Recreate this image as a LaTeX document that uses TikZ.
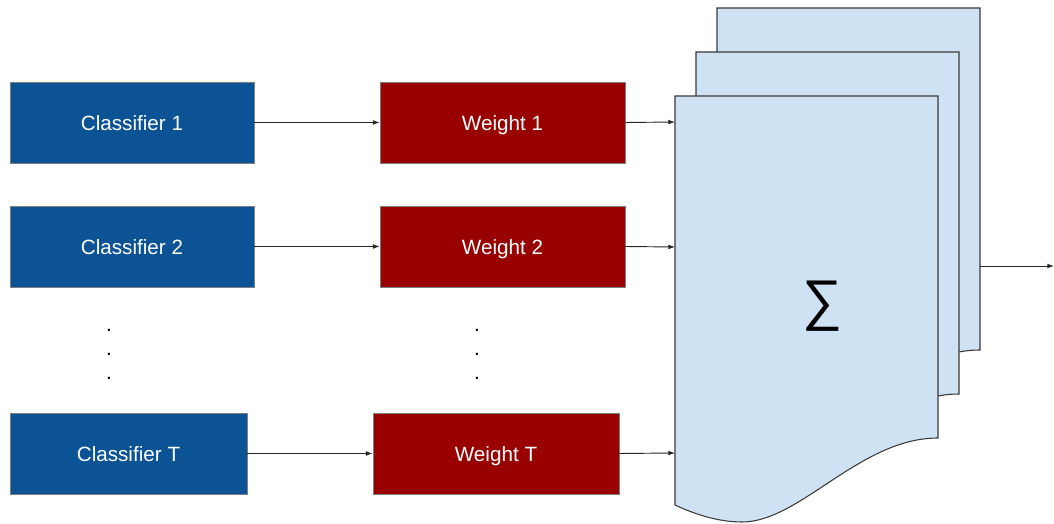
\documentclass[tikz,border=0pt]{standalone}
\usepackage{fontspec}
\setmainfont{Liberation Sans}
\usetikzlibrary{arrows.meta}
\definecolor{clsblue}{HTML}{0B5394}
\definecolor{wred}{HTML}{990000}
\definecolor{docfill}{HTML}{CFE2F3}
\definecolor{docline}{HTML}{3A3A3A}
\definecolor{boxline}{HTML}{7F7F7F}
\begin{document}
\begin{tikzpicture}[x=0.75pt,y=-0.75pt,
  box/.style={draw=boxline, line width=0.6pt, inner sep=0pt, text=white,
    minimum height=60.75pt, text height=12.6pt, text depth=0pt,
    font=\fontsize{15.5}{18}\selectfont},
  clsbox/.style={box, fill=clsblue},
  wbox/.style={box, fill=wred},
  doc/.style={draw=docline, fill=docfill, line width=0.8pt},
  link/.style={draw=black!85, line width=0.7pt,
    -{Latex[length=5pt,width=3.6pt]}},
  dot/.style={anchor=base, inner sep=0pt, font=\fontsize{15.5}{18}\selectfont}]
\useasboundingbox (0,0) rectangle (1054,524);

% stacked document shapes (back to front)
\newcommand\docshape{%
  (675,96) -- (938,96) -- (938,438)
  .. controls (860,438) and (800,522) .. (742,522)
  .. controls (715,522) and (690,512) .. (675,505) -- cycle}
\begin{scope}[shift={(42,-88)}]
  \path[doc] \docshape;
\end{scope}
\begin{scope}[shift={(21,-44)}]
  \path[doc] \docshape;
\end{scope}
\path[doc] \docshape;
\node[inner sep=0pt, font=\fontsize{42}{46}\selectfont] (sum) at (822,306) {∑};

% inputs of the sum and its output
\coordinate (in1) at (675,122);
\coordinate (in2) at (675,247);
\coordinate (inT) at (675,453);
\coordinate (outS) at (980,266);
\coordinate (outE) at (1054,266);

% classifiers
\node[clsbox, minimum width=183pt] (c1) at (132,122.5) {Classifier 1};
\node[clsbox, minimum width=183pt] (c2) at (132,246.5) {Classifier 2};
\node[clsbox, minimum width=177.75pt] (cT) at (128.5,453.5) {Classifier T};

% weights
\node[wbox, minimum width=183.75pt] (w1) at (502.5,122.5) {Weight 1};
\node[wbox, minimum width=183.75pt] (w2) at (502.5,246.5) {Weight 2};
\node[wbox, minimum width=184.5pt] (wT) at (496,453.5) {Weight T};

% ellipsis dots
\foreach \yy [count=\i] in {331,355,379} {
  \node[dot] (dl\i) at (109,\yy) {.};
  \node[dot] (dr\i) at (477,\yy) {.};
}

% connectors
\draw[link] (c1.east) -- (w1.west);
\draw[link] (c2.east) -- (w2.west);
\draw[link] (cT.east) -- (wT.west);
\draw[link] (w1.east) -- (in1);
\draw[link] (w2.east) -- (in2);
\draw[link] (wT.east) -- (inT);
\draw[link] (outS) -- (outE);
\end{tikzpicture}
\end{document}
